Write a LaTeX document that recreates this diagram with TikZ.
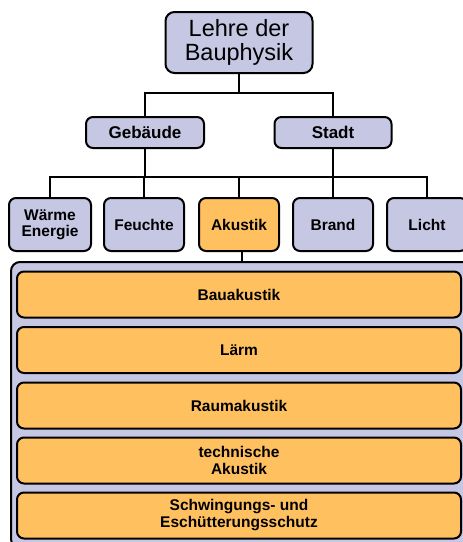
\documentclass[tikz,border=0pt]{standalone}
\usepackage{fontspec}
\setmainfont{Liberation Sans}
\definecolor{lav}{RGB}{197,199,227}
\definecolor{ora}{RGB}{255,192,96}
\begin{document}
\begin{tikzpicture}[x=1pt,y=-1pt,
  card/.style={draw=black, line width=2pt, rounded corners=7pt, fill=lav,
    inner sep=0pt, align=center, font=\bfseries\fontsize{15.5}{16}\selectfont},
  topcard/.style={card, rounded corners=9pt, font=\fontsize{23.5}{24}\selectfont,
    minimum width=147pt, minimum height=61pt},
  midcard/.style={card, font=\bfseries\fontsize{17}{18}\selectfont,
    minimum height=31pt},
  leaf/.style={card, minimum width=80pt, minimum height=53pt},
  topic/.style={card, fill=ora, minimum width=444pt, minimum height=46pt,
    font=\bfseries\fontsize{15.5}{17}\selectfont},
  conn/.style={line width=2pt}
]
\useasboundingbox (0,0) rectangle (463,542);
\clip (0,0) rectangle (463,542);

% top level
\node[topcard] (lehre) at (239,42.5) {Lehre der\\Bauphysik};

% second level
\node[midcard, minimum width=118pt] (gebaeude) at (145,132.5) {Gebäude};
\node[midcard, minimum width=117pt] (stadt) at (333,132.5) {Stadt};

% third level
\node[leaf, minimum width=82pt] (waerme) at (50,224.5) {Wärme\\Energie};
\node[leaf] (feuchte) at (144,224.5) {Feuchte};
\node[leaf, fill=ora] (akustik) at (239,224.5) {Akustik};
\node[leaf] (brand) at (333,224.5) {Brand};
\node[leaf] (licht) at (427,224.5) {Licht};

% acoustics group
\node[card, rounded corners=9pt, minimum width=464pt, minimum height=286pt] (gruppe) at (243,405) {};
\node[topic] (bau) at (239,294.5) {Bauakustik};
\node[topic] (laerm) at (239,350) {Lärm};
\node[topic] (raum) at (239,405.5) {Raumakustik};
\node[topic] (tech) at (239,460.5) {technische\\Akustik};
\node[topic] (schw) at (239,515.5) {Schwingungs- und\\Eschütterungsschutz};

% connectors
\coordinate (j1) at (239,93);
\coordinate (j2) at (239,177);
\draw[conn] (lehre.south) -- (j1);
\draw[conn] (gebaeude.north) |- (j1) -| (stadt.north);
\draw[conn] (gebaeude.south) -- (gebaeude.south |- j2);
\draw[conn] (stadt.south) -- (stadt.south |- j2);
\draw[conn] (waerme.north) |- (j2) -| (licht.north);
\draw[conn] (feuchte.north) -- (feuchte.north |- j2);
\draw[conn] (akustik.north) -- (j2);
\draw[conn] (brand.north) -- (brand.north |- j2);
\draw[conn] ([xshift=3pt]akustik.south) -- ([xshift=3pt]akustik.south |- gruppe.north);
\end{tikzpicture}
\end{document}
